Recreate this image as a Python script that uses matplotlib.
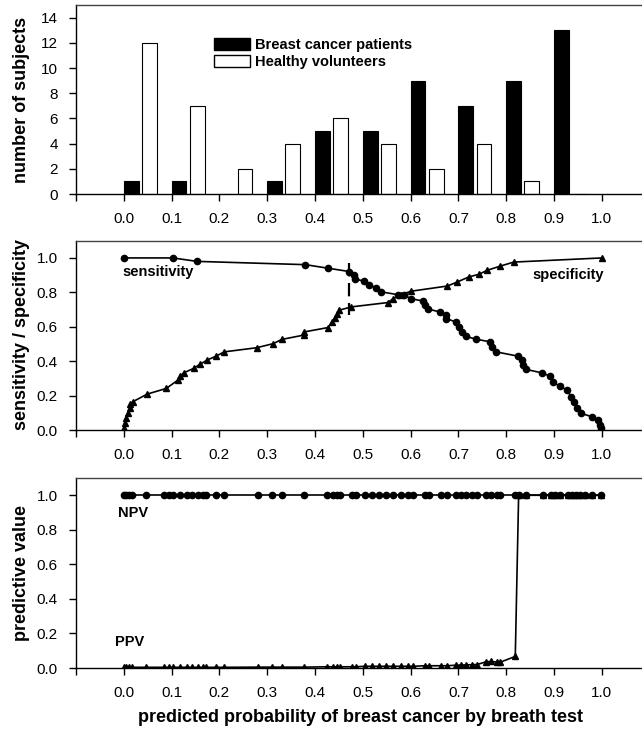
import matplotlib
matplotlib.use("Agg")
import matplotlib.pyplot as plt
import numpy as np
from matplotlib.patches import Patch

plt.rcParams['font.family'] = ['Liberation Sans', 'DejaVu Sans']

# histogram of predicted probability (bin lower edges)
bins = [0.0, 0.1, 0.2, 0.3, 0.4, 0.5, 0.6, 0.7, 0.8, 0.9]
patients = [1, 1, 0, 1, 5, 5, 9, 7, 9, 13]
healthy = [12, 7, 2, 4, 6, 4, 2, 4, 1, 0]

# sensitivity curve (circles)
sens_x = [0.0, 0.103, 0.153, 0.38, 0.428, 0.472, 0.481, 0.483, 0.503, 0.514, 0.528,
          0.539, 0.573, 0.587, 0.601, 0.625, 0.631, 0.637, 0.661, 0.674, 0.675,
          0.694, 0.701, 0.708, 0.715, 0.736, 0.767, 0.771, 0.779, 0.825, 0.833,
          0.836, 0.842, 0.875, 0.892, 0.897, 0.912, 0.927, 0.936, 0.941, 0.948,
          0.957, 0.979, 0.993, 0.997, 0.998]
sens_y = [1.0, 1.0, 0.98, 0.961, 0.94, 0.921, 0.90, 0.88, 0.864, 0.843, 0.826,
          0.803, 0.787, 0.783, 0.764, 0.75, 0.725, 0.703, 0.687, 0.668, 0.648,
          0.629, 0.60, 0.571, 0.546, 0.529, 0.513, 0.484, 0.455, 0.43, 0.407,
          0.378, 0.353, 0.333, 0.314, 0.281, 0.256, 0.233, 0.195, 0.166, 0.127,
          0.098, 0.079, 0.06, 0.031, 0.012]

# specificity curve (triangles)
spec_x = [0.0, 0.002, 0.005, 0.009, 0.012, 0.014, 0.019, 0.049, 0.089, 0.113,
          0.118, 0.125, 0.146, 0.16, 0.174, 0.193, 0.21, 0.278, 0.313, 0.33,
          0.376, 0.378, 0.427, 0.436, 0.441, 0.446, 0.451, 0.476, 0.552, 0.564,
          0.58, 0.601, 0.677, 0.698, 0.722, 0.743, 0.76, 0.788, 0.816, 1.0]
spec_y = [0.012, 0.04, 0.07, 0.098, 0.127, 0.152, 0.166, 0.21, 0.243, 0.291,
          0.314, 0.333, 0.359, 0.384, 0.407, 0.43, 0.455, 0.479, 0.503, 0.527,
          0.552, 0.571, 0.596, 0.629, 0.652, 0.677, 0.697, 0.716, 0.741, 0.764,
          0.787, 0.807, 0.837, 0.861, 0.89, 0.905, 0.928, 0.953, 0.976, 1.0]

cutoff = 0.472

# predictive values
pv_x = [0.0, 0.005, 0.01, 0.017, 0.047, 0.084, 0.095, 0.103, 0.117, 0.132,
        0.143, 0.155, 0.166, 0.173, 0.192, 0.21, 0.281, 0.311, 0.33, 0.378,
        0.426, 0.437, 0.445, 0.452, 0.478, 0.486, 0.504, 0.519, 0.534, 0.549,
        0.564, 0.579, 0.594, 0.605, 0.631, 0.638, 0.664, 0.676, 0.694, 0.705,
        0.716, 0.728, 0.739, 0.757, 0.769, 0.78, 0.787, 0.819, 0.826, 0.842,
        0.876, 0.894, 0.903, 0.913, 0.929, 0.9375, 0.946, 0.955, 0.964, 0.979, 0.999]
npv = [1.0] * 61
ppv = [0.004] * 16 + [0.005] * 4 + [0.007] * 6 + [0.010] * 8 + [0.013] * 4 + \
      [0.016, 0.017, 0.018, 0.019, 0.020] + [0.035, 0.038, 0.034, 0.033] + \
      [0.067] + [1.0] * 13

xticks = [-0.1, 0.0, 0.1, 0.2, 0.3, 0.4, 0.5, 0.6, 0.7, 0.8, 0.9, 1.0, 1.1]
xticklabels = [''] + ['%.1f' % t for t in xticks[1:-1]] + ['']

fig = plt.figure(figsize=(6.42, 7.29), dpi=100)
W = 573.6 / 642
ax1 = fig.add_axes([76 / 642, 1 - 194 / 729, W, 189 / 729])
ax2 = fig.add_axes([76 / 642, 1 - 430.3 / 729, W, 189.6 / 729])
ax3 = fig.add_axes([76 / 642, 1 - 668 / 729, W, 190 / 729])


def style(ax, ymax, yticks, fmt):
    ax.set_xlim(-0.1, 1.1)
    ax.set_ylim(0, ymax)
    ax.spines['right'].set_visible(False)
    for s in ax.spines.values():
        s.set_linewidth(1.0)
    ax.spines['top'].set_color('#444444')
    ax.set_xticks(xticks)
    ax.set_xticklabels(xticklabels)
    ax.set_yticks(yticks)
    ax.set_yticklabels([fmt % t for t in yticks])
    ax.tick_params(direction='out', length=5, width=1.0, labelsize=11, pad=8)


# panel 1: histogram
w = 0.031
ax1.bar(np.array(bins), patients, width=w, align='edge', color='black',
        edgecolor='black', linewidth=0.8)
ax1.bar(np.array(bins) + 0.038, healthy, width=w, align='edge', color='white',
        edgecolor='black', linewidth=0.8)
style(ax1, 15, list(range(0, 15, 2)), '%d')
handles = [Patch(facecolor='black', edgecolor='black', label='Breast cancer patients'),
           Patch(facecolor='white', edgecolor='black', label='Healthy volunteers')]
leg = ax1.legend(handles=handles, loc='upper left', bbox_to_anchor=(214 / 642, 1 - 38 / 729),
                 bbox_transform=fig.transFigure, frameon=False, borderpad=0,
                 handlelength=2.5, handleheight=0.9, handletextpad=0.3,
                 labelspacing=0.2, borderaxespad=0, prop={'weight': 'bold', 'size': 10.5})

# panel 2: sensitivity / specificity
ax2.plot(sens_x, sens_y, color='black', marker='o', markersize=4.5, linewidth=1.2)
ax2.plot(spec_x, spec_y, color='black', marker='^', markersize=4.5, linewidth=1.2)
ax2.plot([cutoff, cutoff], [0.97, 0.668], color='black', linestyle=(0, (6, 3)), linewidth=1.6)
ax2.text(-0.002, 0.918, 'sensitivity', fontsize=10.5, fontweight='bold', va='center', ha='left')
ax2.text(1.004, 0.90, 'specificity', fontsize=10.5, fontweight='bold', va='center', ha='right')
style(ax2, 1.1, [0.0, 0.2, 0.4, 0.6, 0.8, 1.0], '%.1f')

# panel 3: predictive values
ax3.plot(pv_x, ppv, color='black', marker='^', markersize=4.5, linewidth=1.2)
ax3.plot(pv_x, npv, color='black', marker='o', markersize=4.5, linewidth=1.2)
ax3.text(-0.012, 0.898, 'NPV', fontsize=10.5, fontweight='bold', va='center', ha='left')
ax3.text(-0.018, 0.148, 'PPV', fontsize=10.5, fontweight='bold', va='center', ha='left')
style(ax3, 1.1, [0.0, 0.2, 0.4, 0.6, 0.8, 1.0], '%.1f')

lab = dict(fontsize=13, fontweight='bold', rotation=90, ha='center', va='center')
fig.text(22 / 642, 1 - 100 / 729, 'number of subjects', **lab)
fig.text(22 / 642, 1 - 335 / 729, 'sensitivity / specificity', **lab)
fig.text(22 / 642, 1 - 573 / 729, 'predictive value', **lab)
fig.text(361 / 642, 1 - 717 / 729, 'predicted probability of breast cancer by breath test',
         fontsize=13, fontweight='bold', ha='center', va='center')

fig.savefig('out.png', dpi=100)
